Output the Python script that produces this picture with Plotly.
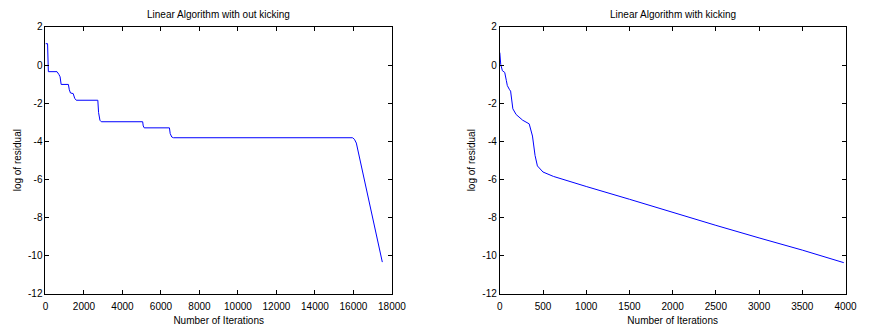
import plotly.graph_objects as go

# Left: Linear Algorithm with out kicking (breakpoints)
iter_nokick = [0, 110, 150, 600, 700, 760, 815, 1190, 1240, 1300, 1440, 1520, 1600,
               2720, 2760, 2830, 2900, 5050, 5080, 5130, 6440, 6480, 6560, 6650,
               15950, 16050, 16150, 16300, 16800, 17300, 17500]
res_nokick = [1.12, 1.12, -0.35, -0.35, -0.5, -0.62, -1.02, -1.02, -1.3, -1.47, -1.5, -1.75, -1.85,
              -1.85, -2.5, -2.9, -2.98, -2.98, -3.2, -3.3, -3.3, -3.6, -3.78, -3.82,
              -3.82, -3.9, -4.1, -4.8, -7.2, -9.6, -10.35]

# Right: Linear Algorithm with kicking
iter_kick = [0, 5, 11, 30, 57, 76, 87, 113, 125, 151, 189, 265, 340, 378, 408, 435,
             470, 500, 620, 775, 1000, 1500, 2000, 2500, 3000, 3500, 3980]
res_kick = [0.65, 0.4, 0.03, -0.3, -0.39, -0.82, -1.08, -1.3, -1.37, -2.3, -2.6, -2.9, -3.09,
            -3.73, -4.75, -5.3, -5.5, -5.62, -5.85, -6.05, -6.38, -7.05, -7.75, -8.42, -9.08,
            -9.72, -10.38]

titles = ["Linear Algorithm with out kicking", "Linear Algorithm with kicking"]
xlabel = "Number of Iterations"
ylabel = "log of residual"
y_ticks = [-12, -10, -8, -6, -4, -2, 0, 2]
x_ticks_left = [0, 2000, 4000, 6000, 8000, 10000, 12000, 14000, 16000, 18000]
x_ticks_right = [0, 500, 1000, 1500, 2000, 2500, 3000, 3500, 4000]

font = dict(family="Liberation Sans, Arial, sans-serif", size=10, color="black")
W, H = 870, 332
ytop, ybot = 1 - 21.7 / H, 1 - 298.3 / H
doms = [(43.3 / W, 396.7 / W), (506.7 / W, 859.3 / W)]

fig = go.Figure()
fig.add_trace(go.Scatter(x=iter_nokick, y=res_nokick, mode="lines",
                         line=dict(color="#0000ff", width=1), xaxis="x", yaxis="y",
                         showlegend=False))
fig.add_trace(go.Scatter(x=iter_kick, y=res_kick, mode="lines",
                         line=dict(color="#0000ff", width=1), xaxis="x2", yaxis="y2",
                         showlegend=False))

axcommon = dict(showgrid=False, zeroline=False, showline=True, linecolor="black",
                linewidth=1, mirror="ticks", ticks="inside", ticklen=4,
                tickcolor="black", tickfont=font)

def lab(v):
    return str(v).replace("\u2212", "-")

fig.update_layout(
    width=W, height=H, margin=dict(l=0, r=0, t=0, b=0),
    paper_bgcolor="white", plot_bgcolor="white", font=font,
    xaxis=dict(domain=doms[0], range=[0, 18000], tickmode="array",
               tickvals=x_ticks_left, ticktext=[lab(v) for v in x_ticks_left],
               anchor="y", ticklabelstandoff=3,
               title=dict(text=xlabel, font=font, standoff=6), **axcommon),
    yaxis=dict(domain=[ybot, ytop], range=[-12, 2], tickmode="array",
               tickvals=y_ticks, ticktext=[lab(v) for v in y_ticks], anchor="x",
               title=dict(text=ylabel, font=font, standoff=4), **axcommon),
    xaxis2=dict(domain=doms[1], range=[0, 4000], tickmode="array",
                tickvals=x_ticks_right, ticktext=[lab(v) for v in x_ticks_right],
                anchor="y2", ticklabelstandoff=3,
                title=dict(text=xlabel, font=font, standoff=6), **axcommon),
    yaxis2=dict(domain=[ybot, ytop], range=[-12, 2], tickmode="array",
                tickvals=y_ticks, ticktext=[lab(v) for v in y_ticks], anchor="x2",
                title=dict(text=ylabel, font=font, standoff=4), **axcommon),
)

for i, t in enumerate(titles):
    fig.add_annotation(text=t, x=(doms[i][0] + doms[i][1]) / 2, y=1 - 9 / H,
                       xref="paper", yref="paper", showarrow=False,
                       xanchor="center", yanchor="middle", font=font)

fig.write_html("out.html")
